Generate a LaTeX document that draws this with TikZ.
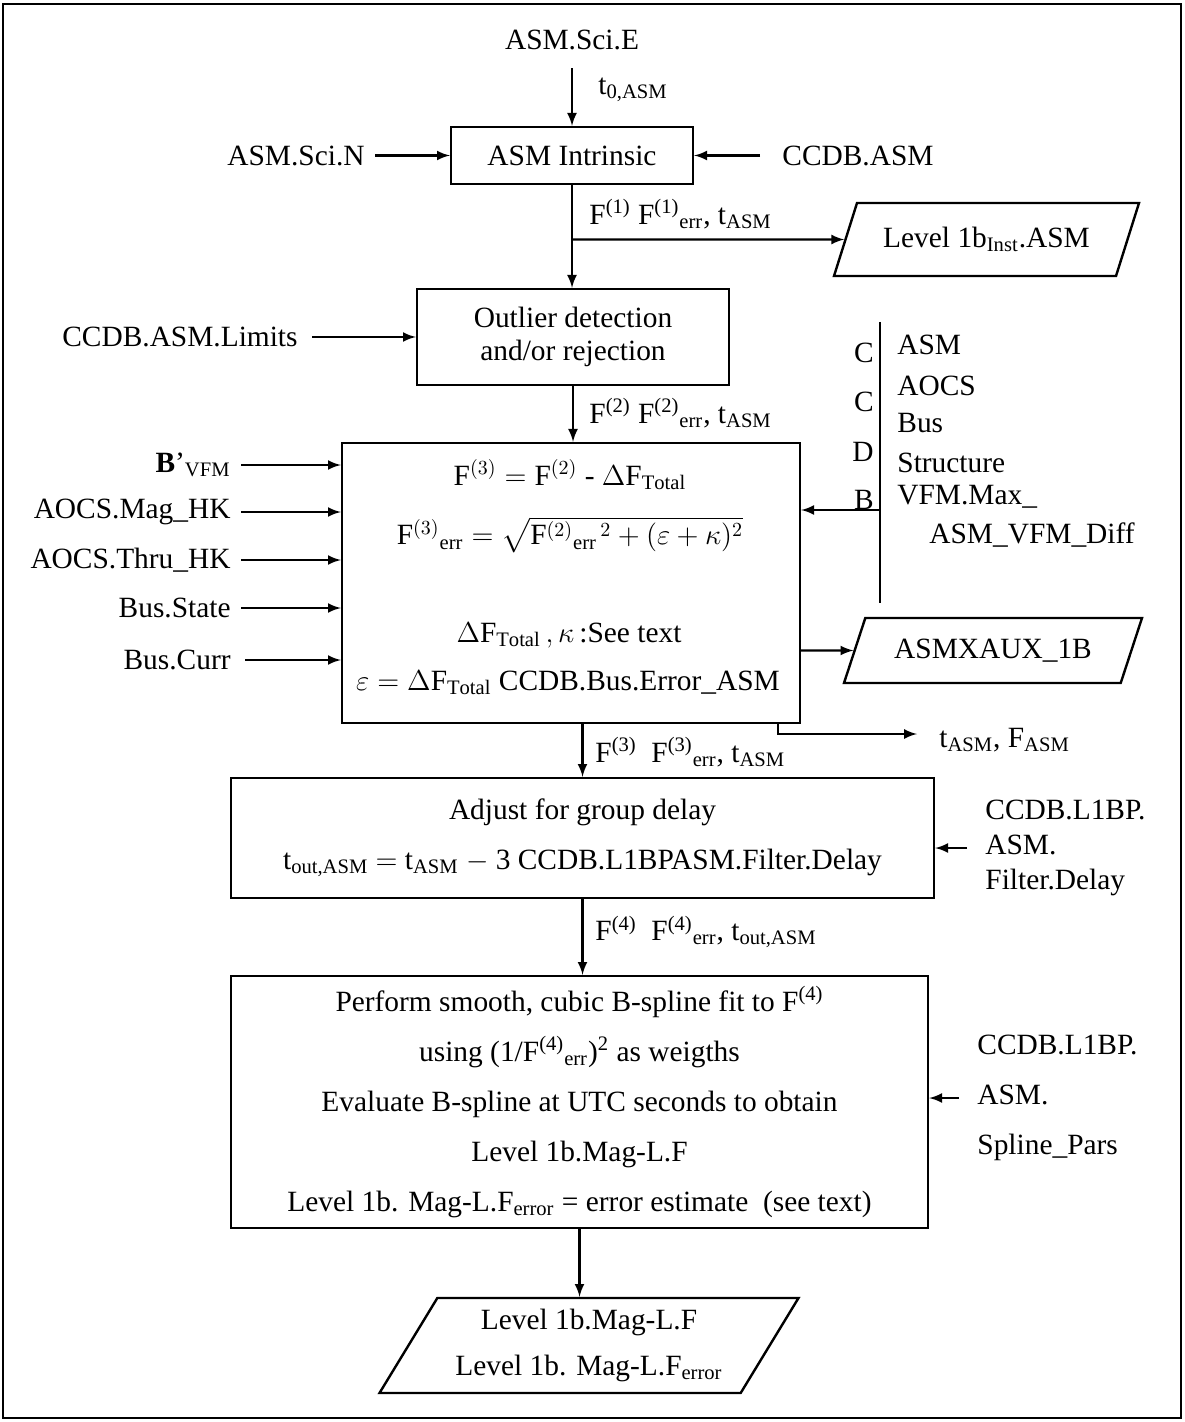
\documentclass[tikz,border=0pt]{standalone}
\usepackage{amsmath}
\usepackage{fontspec}
\setmainfont{Liberation Serif}
\usepackage{tikz}
\usetikzlibrary{shapes, arrows, positioning, calc}

\begin{document}
\begin{tikzpicture}[x=0.5pt, y=-0.5pt, >=latex,
    every node/.style={font=\fontsize{14.7}{17}\selectfont},
    blockstyle/.style={rectangle, draw, very thick, align=center, inner sep=2pt},
    iostyle/.style={trapezium, draw, very thick, trapezium left angle=52, trapezium right angle=128, trapezium stretches body, align=center, inner sep=1pt},
    txtstyle/.style={inner sep=1pt}]

    \useasboundingbox (0,0) rectangle (1184,1422);
    \draw[very thick] (3,4) rectangle (1181,1418);

    \node[blockstyle, minimum width=121pt, minimum height=28.5pt] (intr) at (572,155.5) {ASM Intrinsic};
    \node[txtstyle] (sciE) at (572,40) {ASM.Sci.E};
    \node[txtstyle, anchor=west] (lblT0) at (596,90) {t\textsubscript{0,ASM}};
    \node[txtstyle, anchor=east] (sciN) at (367,155.5) {ASM.Sci.N};
    \node[txtstyle, anchor=west] (ccdbAsm) at (780,155.5) {CCDB.ASM};
    \node[iostyle, trapezium left angle=51.5, trapezium right angle=128.5, minimum width=152.5pt, minimum height=36.5pt] (inst) at (986.5,239.5) {Level 1b\textsubscript{Inst}.ASM};
    \node[txtstyle, anchor=west] (lblF1) at (587,214) {F\textsuperscript{(1)} F\textsuperscript{(1)}\textsubscript{err}, t\textsubscript{ASM}};

    \node[blockstyle, minimum width=156pt, minimum height=48pt, font=\fontsize{14.7}{16.5}\selectfont] (outl) at (573,337) {Outlier detection\\and/or rejection};
    \node[txtstyle, anchor=east] (limits) at (300,337) {CCDB.ASM.Limits};
    \node[txtstyle, anchor=west] (lblF2) at (587,413) {F\textsuperscript{(2)} F\textsuperscript{(2)}\textsubscript{err}, t\textsubscript{ASM}};

    \node[blockstyle, minimum width=229pt, minimum height=140pt] (main) at (571,583) {};
    \node[txtstyle] (eqF) at (570,475) {$\mathrm{F}^{(3)}=\mathrm{F}^{(2)}$ - $\Delta\mathrm{F}_{\mathrm{Total}}$};
    \node[txtstyle] (eqErr) at (570,535) {$\mathrm{F}^{(3)}{}_{\mathrm{err}} =\sqrt{\mathrm{F}^{(2)}{}_{\mathrm{err}}{}^{\,2} + (\varepsilon+\kappa)^{2}}$};
    \node[txtstyle] (eqSee) at (569,635) {$\Delta\mathrm{F}_{\mathrm{Total}}\,,\kappa$\,:See text};
    \node[txtstyle] (eqEps) at (568,683) {$\varepsilon=\Delta\mathrm{F}_{\mathrm{Total}}$ CCDB.Bus.Error\_ASM};

    \node[txtstyle, anchor=east] (bvfm) at (233,465) {\textbf{B}’\textsubscript{VFM}};
    \node[txtstyle, anchor=east] (magHK) at (233,512) {AOCS.Mag\_HK};
    \node[txtstyle, anchor=east] (thruHK) at (233,560) {AOCS.Thru\_HK};
    \node[txtstyle, anchor=east] (busState) at (233,608) {Bus.State};
    \node[txtstyle, anchor=east] (busCurr) at (233,660) {Bus.Curr};

    \coordinate (barTop) at (880,322);
    \coordinate (barBot) at (880,603);
    \coordinate (barIn) at (880,510);
    \node[txtstyle, anchor=east] (lettC1) at (876,353) {C};
    \node[txtstyle, anchor=east] (lettC2) at (876,402) {C};
    \node[txtstyle, anchor=east] (lettD) at (876,452) {D};
    \node[txtstyle, anchor=east] (lettB) at (876,500) {B};
    \node[txtstyle, anchor=west] (capAsm) at (895,345) {ASM};
    \node[txtstyle, anchor=west] (capAocs) at (895,386) {AOCS};
    \node[txtstyle, anchor=west] (capBus) at (895,423) {Bus};
    \node[txtstyle, anchor=west] (capStruct) at (895,463) {Structure};
    \node[txtstyle, anchor=west] (capVfm) at (895,497) {VFM.Max\_};
    \node[txtstyle, anchor=west] (capDiff) at (927,535) {ASM\_VFM\_Diff};

    \node[iostyle, minimum width=149pt, minimum height=32.5pt] (xaux) at (993,650.5) {ASMXAUX\_1B};
    \coordinate (tFork) at (778,723);
    \coordinate (tEnd) at (917,734);
    \node[txtstyle, anchor=west] (tout) at (937,740) {t\textsubscript{ASM}, F\textsubscript{ASM}};
    \node[txtstyle, anchor=west] (lblF3) at (593,752) {F\textsuperscript{(3)}\enspace F\textsuperscript{(3)}\textsubscript{err}, t\textsubscript{ASM}};

    \node[blockstyle, minimum width=351.5pt, minimum height=60pt, font=\fontsize{14.7}{25}\selectfont] (adj) at (582.5,838) {Adjust for group delay\\t\textsubscript{out,ASM} $=$ t\textsubscript{ASM} $-$ 3 CCDB.L1BPASM.Filter.Delay};
    \node[txtstyle, anchor=west, align=left, font=\fontsize{14.7}{17.5}\selectfont] (filtDelay) at (983,848) {CCDB.L1BP.\\ASM.\\Filter.Delay};
    \node[txtstyle, anchor=west] (lblF4) at (593,932) {F\textsuperscript{(4)}\enspace F\textsuperscript{(4)}\textsubscript{err}, t\textsubscript{out,ASM}};

    \node[blockstyle, minimum width=348.5pt, minimum height=126pt, font=\fontsize{14.7}{25}\selectfont] (fit) at (579.5,1102) {Perform smooth, cubic B-spline fit to F\textsuperscript{(4)}\\using (1/F\textsuperscript{(4)}\textsubscript{err})\textsuperscript{2} as weigths\\Evaluate B-spline at UTC seconds to obtain\\Level 1b.Mag-L.F\\Level 1b. Mag-L.F\textsubscript{error} = error estimate\enspace(see text)};
    \node[txtstyle, anchor=west, align=left, font=\fontsize{14.7}{25}\selectfont] (splinePars) at (975,1098) {CCDB.L1BP.\\ASM.\\Spline\_Pars};

    \node[iostyle, trapezium left angle=53, trapezium right angle=127, minimum width=209.5pt, minimum height=47.5pt, font=\fontsize{14.7}{23}\selectfont] (lvlOut) at (589,1345.5) {Level 1b.Mag-L.F\\Level 1b. Mag-L.F\textsubscript{error}};

    \draw[->, very thick, shorten <=8pt] (sciE.south) -- (intr.north);
    \draw[->, very thick, shorten <=4pt] (sciN.east) -- (intr.west);
    \draw[->, very thick, shorten <=10pt] (ccdbAsm.west) -- (intr.east);
    \draw[->, very thick] (intr.south) -- (intr.south |- outl.north);
    \draw[->, very thick] (intr.south |- inst) -- (inst);
    \draw[->, very thick, shorten <=6pt] (limits.east) -- (limits.east -| outl.west);
    \draw[->, very thick] (outl.south) -- (outl.south |- main.north);

    \draw[->, very thick, shorten <=4pt] (bvfm.east) -- (bvfm.east -| main.west);
    \draw[->, very thick, shorten <=4pt] (magHK.east) -- (magHK.east -| main.west);
    \draw[->, very thick, shorten <=4pt] (thruHK.east) -- (thruHK.east -| main.west);
    \draw[->, very thick, shorten <=4pt] (busState.east) -- (busState.east -| main.west);
    \draw[->, very thick, shorten <=6pt] (busCurr.east) -- (busCurr.east -| main.west);

    \draw[very thick] (barTop) -- (barBot);
    \draw[->, very thick] (barIn) -- (barIn -| main.east);
    \draw[->, very thick] (main.east |- xaux) -- (xaux);
    \draw[->, very thick] (tFork) |- (tEnd);

    \draw[->, very thick] (adj.north |- main.south) -- (adj.north);
    \draw[->, very thick, shorten <=8pt] (filtDelay.west) -- (filtDelay.west -| adj.east);
    \draw[->, very thick] (adj.south) -- (adj.south |- fit.north);
    \draw[->, very thick, shorten <=8pt] (splinePars.west) -- (splinePars.west -| fit.east);
    \draw[->, very thick] (fit.south) -- (fit.south |- lvlOut.north);
\end{tikzpicture}
\end{document}
